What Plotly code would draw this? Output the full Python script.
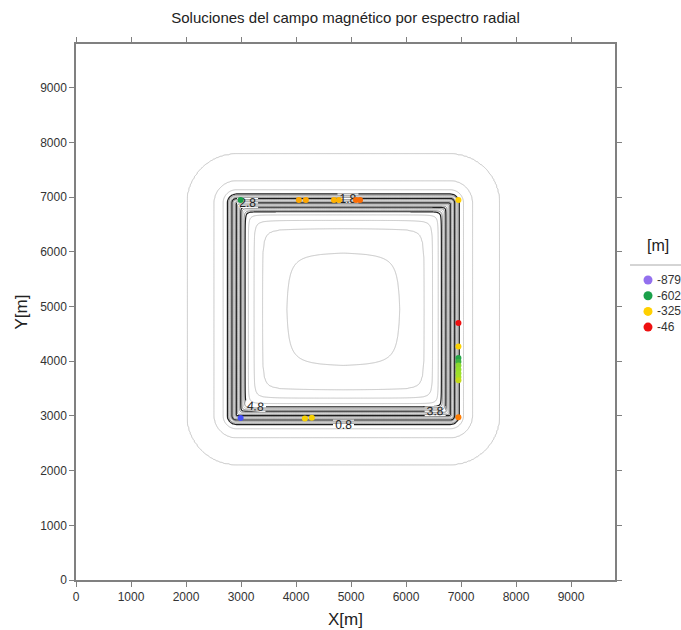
import numpy as np
import plotly.graph_objects as go
from plotly.colors import sample_colorscale

# ---------------- data ----------------
# contour field: profile of the field value vs. offset (m) from the anomaly edge (+ = outward)
anomaly_center_x = 4860
anomaly_center_y = 4950
anomaly_half_size = 1945
profile_offset_m = [-1800, -900, -470, -320, -220, -160, 160, 240, 400, 890, 4000]
profile_value = [10.0, 8.3, 7.3, 6.3, 5.3, 4.8, 0.8, 0.3, -0.7, -1.7, -2.5]
major_levels = (0.8, 4.8, 1.0)       # labelled, dark
minor_levels = (-1.7, 8.3, 1.0)      # light gray
band_levels = (1.05, 4.55, 0.5)      # extra gray lines inside the edge band

# radial-spectrum solutions (x, y, depth)
sol_x = [2993, 4051, 4179, 4690, 4781, 5091, 5164, 6953,
         6953, 6953, 6953, 6953, 6953, 6953, 6953, 6953, 6953,
         6953, 2993, 4161, 4288]
sol_y = [6947, 6950, 6950, 6950, 6950, 6950, 6950, 6947,
         4698, 4270, 4060, 3990, 3920, 3850, 3780, 3710, 3650,
         2975, 2962, 2955, 2965]
sol_depth = [-602, -250, -250, -270, -270, -160, -160, -325,
             -46, -330, -590, -560, -470, -460, -450, -440, -400,
             -180, -960, -335, -335]

legend_depths = [-879, -602, -325, -46]
legend_labels = ["-879", "-602", "-325", "-46"]

ticks = list(range(0, 10000, 1000))

# ---------------- field ----------------
gx = np.arange(0, 9801, 25.0)
gy = np.arange(0, 9801, 25.0)
X, Y = np.meshgrid(gx, gy)
ax = np.abs(X - anomaly_center_x)
ay = np.abs(Y - anomaly_center_y)
a = anomaly_half_size
outside = (ax > a) | (ay > a)
ox = np.maximum(ax - a, 0)
oy = np.maximum(ay - a, 0)
u = np.clip(a - ax, 1e-3, None)
v = np.clip(a - ay, 1e-3, None)
p = 3.5
d_in = -(u ** -p + v ** -p) ** (-1.0 / p)
d = np.where(outside, np.hypot(ox, oy), d_in)
F = np.interp(d, profile_offset_m, profile_value)

colorscale = [
    [0.0, "#2040ff"],
    [0.121, "#9370ee"],
    [0.398, "#1aa04a"],
    [0.55, "#9be02a"],
    [0.675, "#ffd000"],
    [0.80, "#ff8c00"],
    [0.954, "#ee1010"],
    [1.0, "#ee1010"],
]
cmin, cmax = -1000, 0

fig = go.Figure()


def contour_trace(levels, color, width=1.0, labels=False):
    c = dict(start=levels[0], end=levels[1], size=levels[2], coloring="none",
             showlabels=labels)
    if labels:
        c.update(labelfont=dict(size=12, color="#222222", family="Liberation Sans, Arial"),
                 labelformat=".1f")
    return go.Contour(x=gx, y=gy, z=F, autocontour=False, contours=c,
                      line=dict(color=color, width=width, smoothing=0.6),
                      showscale=False, hoverinfo="skip", showlegend=False)


fig.add_trace(contour_trace(minor_levels, "#c4c4c4"))
fig.add_trace(contour_trace(band_levels, "#858585"))
fig.add_trace(contour_trace(major_levels, "#1e1e1e", width=1.2, labels=True))

fig.add_trace(go.Scatter(
    x=sol_x, y=sol_y, mode="markers",
    marker=dict(size=6, color=sol_depth, colorscale=colorscale, cmin=cmin, cmax=cmax,
                showscale=False),
    showlegend=False, hoverinfo="skip",
))

# legend (title, rule, colored circles and labels)
legend_colors = sample_colorscale(colorscale, [(v - cmin) / (cmax - cmin) for v in legend_depths])
annotations = [dict(text="[m]", xref="paper", yref="paper",
                    x=(658 - 76) / 539, y=(580 - 245) / 536,
                    showarrow=False, font=dict(size=16, color="#222222"),
                    xanchor="center", yanchor="middle")]
shapes = [dict(type="line", xref="paper", yref="paper",
               x0=(630 - 76) / 539, x1=(681 - 76) / 539,
               y0=(580 - 265) / 536, y1=(580 - 265) / 536,
               line=dict(color="#aaaaaa", width=1))]
for i, (lab, col) in enumerate(zip(legend_labels, legend_colors)):
    ypx = 280 + i * 15.7
    shapes.append(dict(type="circle", xref="paper", yref="paper",
                       xsizemode="pixel", ysizemode="pixel",
                       xanchor=(648 - 76) / 539, yanchor=(580 - ypx) / 536,
                       x0=-4.5, x1=4.5, y0=-4.5, y1=4.5,
                       fillcolor=col, line=dict(width=0)))
    annotations.append(dict(text=lab, xref="paper", yref="paper",
                            x=(655 - 76) / 539, y=(580 - ypx) / 536,
                            showarrow=False, font=dict(size=12, color="#333333"),
                            xanchor="left", yanchor="middle"))

axis_common = dict(
    range=[0, 9800], tickvals=ticks, ticks="outside", ticklen=5, tickwidth=1,
    tickcolor="#808080", showline=True, linecolor="#808080", linewidth=1.5,
    mirror="allticks", showgrid=False, zeroline=False,
    tickfont=dict(size=12, color="#333333", family="Liberation Sans, Arial"),
)

fig.update_layout(
    width=681, height=630,
    margin=dict(l=76, r=66, t=44, b=50, autoexpand=False),
    paper_bgcolor="white", plot_bgcolor="white",
    font=dict(family="Liberation Sans, Arial", color="#222222"),
    title=dict(text="Soluciones del campo magnético por espectro radial",
               x=0.5, xref="paper", y=1 - 18 / 630, yref="container",
               xanchor="center", yanchor="middle",
               font=dict(size=15, color="#222222")),
    xaxis=dict(**axis_common, automargin=False,
               title=dict(text="X[m]", font=dict(size=17, color="#222222"), standoff=10)),
    yaxis=dict(**axis_common, automargin=False,
               title=dict(text="Y[m]", font=dict(size=17, color="#222222"), standoff=8)),
    showlegend=False,
    annotations=annotations,
    shapes=shapes,
)

fig.write_html("out.html")
